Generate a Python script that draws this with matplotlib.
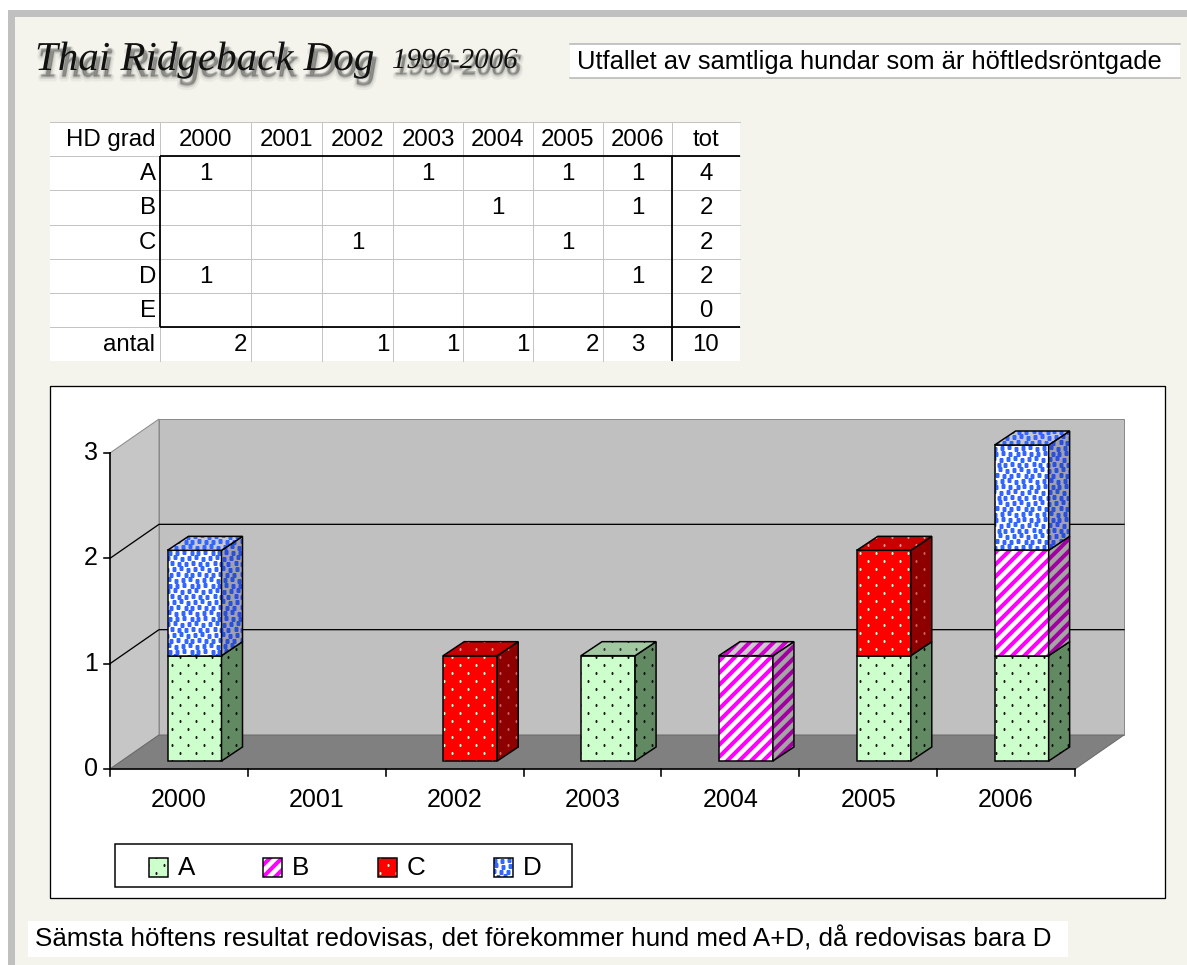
import numpy as np
import matplotlib
matplotlib.use('Agg')
import matplotlib.pyplot as plt
from matplotlib.patches import Polygon, Rectangle
from matplotlib import patheffects as pe

plt.rcParams['font.family'] = ['Liberation Sans', 'DejaVu Sans']
plt.rcParams['hatch.linewidth'] = 4.0

# ---------------- data ----------------
years = ['2000', '2001', '2002', '2003', '2004', '2005', '2006']
grade_A = [1, 0, 0, 1, 0, 1, 1]
grade_B = [0, 0, 0, 0, 1, 0, 1]
grade_C = [0, 0, 1, 0, 0, 1, 0]
grade_D = [1, 0, 0, 0, 0, 0, 1]
grade_E = [0, 0, 0, 0, 0, 0, 0]
table_rows = ['A', 'B', 'C', 'D', 'E']
legend_labels = ['A', 'B', 'C', 'D']
y_ticks = [0, 1, 2, 3]

title_main = 'Thai Ridgeback Dog'
title_years = '1996-2006'
subtitle = 'Utfallet av samtliga hundar som är höftledsröntgade'
footer = 'Sämsta höftens resultat redovisas, det förekommer hund med A+D, då redovisas bara D'

# ---------------- figure ----------------
W, H = 1187, 965
DPI = 72
fig = plt.figure(figsize=(W / DPI, H / DPI), dpi=DPI)
fig.patch.set_facecolor('white')

deco = fig.add_axes([0, 0, 1, 1], zorder=0)
deco.set_xlim(0, W)
deco.set_ylim(H, 0)
deco.axis('off')

# chart axes (data coordinates)
n = len(years)
X0PX, X1PX = 110, 1075
Y0PX, YTPX = 769, 453
UX = (X1PX - X0PX) / n
UY = (Y0PX - YTPX) / y_ticks[-1]
ax = fig.add_axes([0, 0, 1, 1], zorder=2)
ax.patch.set_alpha(0)
ax.axis('off')
ax.set_xlim(-0.5 - X0PX / UX, -0.5 + (W - X0PX) / UX)
ax.set_ylim((Y0PX - H) / UY, Y0PX / UY)

DX, DY = 49 / UX, 34 / UY          # wall depth
BX, BW = 57.5 / UX, 54 / UX        # bar front offset / width
BY = 8 / UY                        # bar base offset
BDX, BDY = 21 / UX, 14 / UY        # bar depth


def add_texture(a, patch, verts, kind, color, z):
    disp = a.transData.transform(verts)
    x0, y0 = disp.min(0)
    x1, y1 = disp.max(0)
    pts = []
    if kind == 'dots':
        sx, sy = 16, 8
        ms = 2.2
    else:
        sx, sy = 7.0, 5.5
        ms = 3.5
    for r in range(int(np.floor(y0 / sy)) - 1, int(np.ceil(y1 / sy)) + 2):
        off = (r % 2) * sx / 2
        for c in range(int(np.floor(x0 / sx)) - 1, int(np.ceil(x1 / sx)) + 2):
            if kind == 'dots':
                pts.append((c * sx + off + 4, r * sy + 4))
            else:
                jx = ((r * 5 + c * 3) % 3 - 1) * 1.0
                jy = ((r * 2 + c * 7) % 3 - 1) * 0.7
                pts.append((c * sx + off + jx, r * sy + jy))
    pts = np.array(pts, dtype=float)
    m = (pts[:, 0] >= x0 - 3) & (pts[:, 0] <= x1 + 3) & (pts[:, 1] >= y0 - 3) & (pts[:, 1] <= y1 + 3)
    if m.sum() == 0:
        return
    dp = a.transData.inverted().transform(pts[m])
    ln, = a.plot(dp[:, 0], dp[:, 1], ls='none', marker='s', ms=ms, mfc=color,
                 mec='none', zorder=z)
    ln.set_clip_path(patch)


def draw_face(a, verts, fc, tex, tcol, z, lw=1.5):
    if tex == 'stripes':
        p = Polygon(verts, closed=True, fc=fc, ec=tcol, lw=0, hatch='//', zorder=z)
    else:
        p = Polygon(verts, closed=True, fc=fc, ec='none', lw=0, zorder=z)
    a.add_patch(p)
    if tex in ('dots', 'confetti'):
        add_texture(a, p, verts, tex, tcol, z + 0.01)
    a.add_patch(Polygon(verts, closed=True, fill=False, ec='black', lw=lw,
                        zorder=z + 0.02, joinstyle='miter'))


styles = {
    'A': dict(front='#ccffcc', side='#628a62', top='#a2c8a2', tex='dots',
              cf='#1a1a1a', cs='#111111', ct='#333333'),
    'B': dict(front='white', side='#a4a4a4', top='#cccccc', tex='stripes',
              cf='#ff00ff', cs='#a000a0', ct='#d000d0'),
    'C': dict(front='#ff0000', side='#8e0000', top='#c80000', tex='dots',
              cf='#ffffcc', cs='#c86060', ct='#ff9090'),
    'D': dict(front='white', side='#a0a0b0', top='#c8c8d4', tex='confetti',
              cf='#3366ff', cs='#2a50d8', ct='#3366ff'),
}

# ---------------- background / decoration ----------------
deco.add_patch(Rectangle((8, 10), W, H, fc='#f4f4ec', ec='none', zorder=0))
deco.add_patch(Rectangle((8, 10), W, 7, fc='#c0c0c0', ec='none', zorder=0.1))
deco.add_patch(Rectangle((8, 10), 7, H, fc='#c0c0c0', ec='none', zorder=0.1))

shadow = [pe.Stroke(linewidth=7, foreground='#666666', alpha=0.08, offset=(3, -8)),
          pe.Stroke(linewidth=4, foreground='#555555', alpha=0.12, offset=(3, -7)),
          pe.Stroke(linewidth=1.5, foreground='#444444', alpha=0.22, offset=(3, -6)),
          pe.Normal()]
t1 = deco.text(35, 70, title_main, fontsize=41, family='Liberation Serif',
               style='italic', color='#111111', va='baseline', ha='left', zorder=3)
t1.set_path_effects(shadow)
t2 = deco.text(392, 68, title_years, fontsize=29, family='Liberation Serif',
               style='italic', color='#111111', va='baseline', ha='left', zorder=3)
t2.set_path_effects(shadow)

deco.add_patch(Rectangle((570, 44), 610, 34, fc='white', ec='none', zorder=1))
deco.plot([570, 1180], [44, 44], color='#b4b4b4', lw=1.5, zorder=1.1)
deco.plot([570, 1180], [78, 78], color='#b4b4b4', lw=1.5, zorder=1.1)
deco.text(577, 62, subtitle, fontsize=25.5, va='center', ha='left', zorder=2)

deco.add_patch(Rectangle((28, 921), 1040, 36, fc='white', ec='none', zorder=1))
deco.text(35, 939, footer, fontsize=26, va='center', ha='left', zorder=2)

# ---------------- table ----------------
col_edges = [50, 160, 251, 322, 393, 463, 533, 603, 672, 740]
row_edges = [122, 156, 190, 225, 259, 293, 327, 361]
TFS = 24
deco.add_patch(Rectangle((50, 122), 690, 239, fc='white', ec='none', zorder=1))
gcol = '#c4c4c4'
for xe in col_edges[1:-1]:
    deco.plot([xe, xe], [row_edges[0], row_edges[-1]], color=gcol, lw=1, zorder=1.2)
for ye in row_edges[:-1]:
    deco.plot([col_edges[0], col_edges[-1]], [ye, ye], color=gcol, lw=1, zorder=1.2)
bk = dict(color='black', lw=1.8, zorder=1.5, solid_capstyle='butt')
deco.plot([160, 740], [156, 156], **bk)
deco.plot([160, 740], [327, 327], **bk)
deco.plot([160, 160], [156, 327], **bk)
deco.plot([672, 672], [156, 361], **bk)

def rc(r):
    return (row_edges[r] + row_edges[r + 1]) / 2 + 1

def cc(c):
    return (col_edges[c] + col_edges[c + 1]) / 2

deco.text(col_edges[1] - 5, rc(0), 'HD grad', fontsize=TFS, ha='right', va='center', zorder=2)
for j, yr in enumerate(years):
    deco.text(cc(j + 1), rc(0), yr, fontsize=TFS, ha='center', va='center', zorder=2)
deco.text(cc(8), rc(0), 'tot', fontsize=TFS, ha='center', va='center', zorder=2)

table_vals = [grade_A, grade_B, grade_C, grade_D, grade_E]
for r, (lab, vals) in enumerate(zip(table_rows, table_vals)):
    deco.text(col_edges[1] - 4, rc(r + 1), lab, fontsize=TFS, ha='right', va='center', zorder=2)
    for j, v in enumerate(vals):
        if v:
            deco.text(cc(j + 1), rc(r + 1), str(v), fontsize=TFS, ha='center', va='center', zorder=2)
    deco.text(cc(8), rc(r + 1), str(sum(vals)), fontsize=TFS, ha='center', va='center', zorder=2)

antal = [sum(t[j] for t in table_vals) for j in range(n)]
deco.text(col_edges[1] - 5, rc(6), 'antal', fontsize=TFS, ha='right', va='center', zorder=2)
for j, v in enumerate(antal):
    if v:
        if j == n - 1:
            deco.text(cc(j + 1), rc(6), str(v), fontsize=TFS, ha='center', va='center', zorder=2)
        else:
            deco.text(col_edges[j + 2] - 4, rc(6), str(v), fontsize=TFS, ha='right', va='center', zorder=2)
deco.text(cc(8), rc(6), str(sum(antal)), fontsize=TFS, ha='center', va='center', zorder=2)

# ---------------- chart area ----------------
deco.add_patch(Rectangle((50, 386), 1115, 512, fc='white', ec='black', lw=1.3, zorder=1))

xl, xr = -0.5, n - 0.5
ymax = y_ticks[-1]
ax.add_patch(Polygon([(xl, 0), (xl, ymax), (xl + DX, ymax + DY), (xl + DX, DY)],
                     fc='#c6c6c6', ec='#8a8a8a', lw=1, zorder=1))
ax.add_patch(Polygon([(xl + DX, DY), (xl + DX, ymax + DY), (xr + DX, ymax + DY), (xr + DX, DY)],
                     fc='#c0c0c0', ec='#8a8a8a', lw=1, zorder=1))
ax.add_patch(Polygon([(xl, 0), (xr, 0), (xr + DX, DY), (xl + DX, DY)],
                     fc='#808080', ec='#6a6a6a', lw=1, zorder=1.1))
for v in y_ticks[1:-1]:
    ax.plot([xl, xl + DX, xr + DX], [v, v + DY, v + DY], color='black', lw=1.3, zorder=1.5)

# axes lines, ticks, labels
ax.plot([xl, xl], [0, ymax], color='black', lw=1.6, zorder=2)
ax.plot([xl, xr], [0, 0], color='black', lw=1.6, zorder=2)
for v in y_ticks:
    ax.plot([xl - 6 / UX, xl], [v, v], color='black', lw=1.6, zorder=2)
    ax.text(xl - 12 / UX, v, str(v), fontsize=25, ha='right', va='center', zorder=2)
for b in np.arange(n + 1) - 0.5:
    ax.plot([b, b], [0, -7 / UY], color='black', lw=1.6, zorder=2)
for i, yr in enumerate(years):
    ax.text(i, -31 / UY, yr, fontsize=25, ha='center', va='center', zorder=2)

# bars (stacked, pseudo 3D)
series = [('A', grade_A), ('B', grade_B), ('C', grade_C), ('D', grade_D)]
z = 5
for i in range(n):
    bottom = 0
    segs = []
    for name, vals in series:
        v = vals[i]
        if v > 0:
            segs.append((name, bottom, bottom + v))
        bottom += v
    for k, (name, b, t) in enumerate(segs):
        st = styles[name]
        x0 = i - 0.5 + BX
        x1 = x0 + BW
        y0 = b + BY
        y1 = t + BY
        front = [(x0, y0), (x1, y0), (x1, y1), (x0, y1)]
        side = [(x1, y0), (x1 + BDX, y0 + BDY), (x1 + BDX, y1 + BDY), (x1, y1)]
        draw_face(ax, front, st['front'], st['tex'], st['cf'], z)
        draw_face(ax, side, st['side'], st['tex'], st['cs'], z + 0.1)
        if k == len(segs) - 1:
            top = [(x0, y1), (x0 + BDX, y1 + BDY), (x1 + BDX, y1 + BDY), (x1, y1)]
            draw_face(ax, top, st['top'], st['tex'], st['ct'], z + 0.2)
        z += 0.5

# ---------------- legend ----------------
deco.add_patch(Rectangle((115, 844), 457, 43, fc='white', ec='black', lw=1.5, zorder=2))
leg_x = [149, 263, 378, 494]
for lx, lab in zip(leg_x, legend_labels):
    st = styles[lab]
    sq = [(lx, 858), (lx + 19, 858), (lx + 19, 877), (lx, 877)]
    draw_face(deco, sq, st['front'], st['tex'], st['cf'], 3, lw=1.5)
    deco.text(lx + 29, 868, lab, fontsize=26, ha='left', va='center', zorder=3)

fig.savefig('out.png', dpi=DPI, facecolor=fig.get_facecolor())
